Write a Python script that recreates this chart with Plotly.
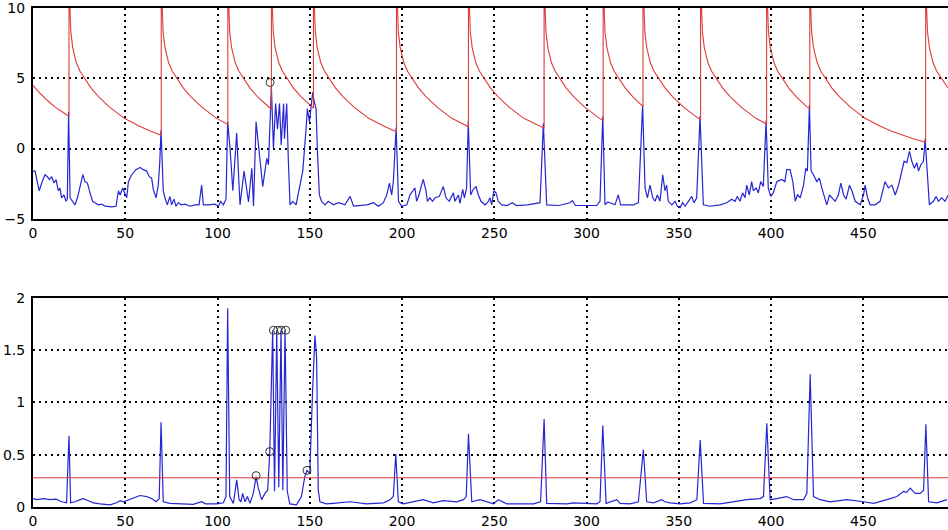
import plotly.graph_objects as go

# ---------------- data ----------------
TOP_BLUE_X = [0, 1.1, 2.3, 3.4, 4.7, 6.5, 7.8, 8.9, 10.1, 11.4, 12.5, 13.7, 14.6, 15.5, 16.8, 17.9, 18.6, 19.3, 20.1, 21.5,
              22.8, 24.1, 25.5, 27.0, 28.2, 29.5, 30.9, 32.3, 33.6, 35.4, 37.2, 39.0, 42.7, 45.0, 46.3, 47.2, 48.6, 49.9, 50.8, 51.7,
              53.5, 55.8, 58.0, 59.8, 61.6, 63.0, 64.3, 65.2, 66.7, 67.9, 68.7, 69.4, 70.6, 71.5, 72.8, 74.2, 75.1, 76.4, 77.5, 78.7,
              80.5, 82.4, 85.1, 87.8, 90.0, 91.4, 92.3, 95.0, 98.6, 100.5, 101.7, 103.2, 104.6, 105.5, 106.8, 108.3, 110.4, 111.3, 112.2, 114.4,
              115.5, 116.8, 118.6, 119.5, 120.9, 122.2, 123.1, 124.5, 125.8, 126.7, 127.6, 128.5, 129.2, 130.3, 131.5, 132.5, 133.6, 134.5, 135.8, 136.3,
              137.5, 138.4, 139.3, 140.8, 142.6, 144.4, 146.2, 148.0, 148.7, 149.8, 150.5, 151.6, 152.5, 153.4, 154.1, 155.2, 156.4, 158.3, 160.0, 162.9,
              165.6, 169.0, 171.9, 173.7, 180.9, 184.5, 187.2, 189.9, 191.7, 193.2, 194.4, 195.3, 196.8, 198.1, 199.8, 202.6, 204.3, 207.0, 207.9, 209.2,
              210.6, 211.5, 213.0, 213.7, 215.1, 216.5, 217.9, 220.2, 222.4, 223.8, 225.6, 227.8, 228.7, 230.5, 231.4, 232.9, 233.8, 235.0, 235.9, 237.2,
              238.6, 240.1, 241.4, 242.8, 245.0, 246.8, 247.7, 248.6, 249.8, 250.9, 252.2, 254.0, 257.0, 259.7, 262.0, 268.0, 274.8, 276.6, 278.4, 285.0,
              291.0, 292.4, 294.0, 305.5, 307.3, 308.8, 310.0, 311.5, 315.4, 317.2, 318.5, 325.4, 328.1, 330.4, 331.7, 333.0, 334.4, 335.9, 337.1, 338.4,
              339.8, 341.3, 342.5, 343.4, 344.3, 346.2, 348.0, 349.2, 350.7, 352.1, 353.4, 355.2, 357.0, 358.3, 359.7, 361.5, 363.3, 366.9, 372.4, 376.0,
              378.7, 380.5, 381.7, 383.2, 384.6, 385.9, 386.8, 388.2, 389.5, 390.4, 391.9, 393.1, 394.4, 395.8, 397.3, 398.5, 399.8, 401.2, 403.1, 405.8,
              407.5, 408.5, 410.3, 411.8, 413.1, 414.3, 415.8, 417.6, 418.8, 419.7, 420.8, 421.7, 423.0, 424.8, 426.2, 427.5, 429.3, 430.2, 431.7, 432.9,
              434.7, 436.5, 437.8, 439.3, 440.7, 442.5, 443.8, 445.6, 448.3, 450.1, 451.0, 452.3, 453.7, 456.4, 459.1, 461.8, 463.6, 465.5, 467.3, 469.1,
              470.9, 472.1, 473.6, 475.0, 476.3, 477.7, 479.0, 479.9, 481.2, 482.6, 483.5, 484.8, 485.8, 488.0, 489.5, 490.7, 492.5, 494.3, 496.0]
TOP_BLUE_Y = [-1.6, -1.6, -2.35, -3.0, -2.45, -1.86, -2.0, -2.2, -2.0, -2.45, -2.2, -3.0, -2.8, -3.5, -3.3, -3.75, -3.6, 2.6, -3.5, -3.75,
              -4.0, -3.5, -2.6, -1.86, -2.35, -2.45, -3.15, -3.75, -3.85, -4.0, -3.95, -4.1, -4.15, -4.1, -3.0, -3.3, -2.8, -3.3, -3.5, -2.35,
              -1.86, -1.5, -1.35, -1.5, -1.6, -2.0, -2.1, -2.9, -3.5, -2.6, -1.0, 1.3, -3.0, -3.5, -4.0, -3.4, -4.0, -3.6, -4.1, -3.85,
              -4.0, -3.95, -4.1, -4.0, -4.0, -2.6, -4.0, -4.0, -3.95, -4.1, -3.75, -4.0, -3.6, 1.9, 0.0, -3.0, 1.1, -1.6, -4.0, -1.6,
              -2.6, -3.8, -1.4, -4.1, 1.9, 0.0, -0.9, -2.7, -1.4, -0.7, -1.15, 2.85, 4.4, 0.0, 3.2, 1.4, 3.2, 0.26, 3.2, 0.7,
              3.2, -0.9, -4.0, -3.75, -4.0, -2.8, -1.6, 1.4, 2.85, 1.9, 2.85, 4.0, 3.3, 2.85, 0.0, -3.3, -3.75, -4.0, -3.75, -4.0,
              -3.85, -4.0, -3.4, -4.1, -4.0, -3.85, -4.1, -3.85, -3.3, -2.45, -3.3, -2.35, 1.5, -3.75, -4.1, -4.0, -3.3, -2.8, -3.75, -3.3,
              -2.6, -2.2, -3.0, -3.75, -3.5, -3.75, -3.5, -3.4, -2.7, -3.5, -3.75, -3.15, -3.75, -3.3, -3.9, -2.9, -3.5, -2.8, 1.9, -3.3,
              -2.9, -2.7, -3.3, -3.75, -4.0, -3.75, -3.5, -4.0, -3.0, -3.15, -3.75, -4.0, -4.05, -3.85, -4.05, -4.0, -3.85, 1.8, -4.0, -4.05,
              -3.85, -3.7, -4.05, -4.05, -3.75, 2.3, -4.0, -3.8, -4.0, -3.3, -4.0, -4.0, -3.85, 3.1, -2.8, -3.5, -2.6, -3.5, -3.75, -3.3,
              -3.75, -1.86, -3.0, -2.6, -3.75, -4.0, -3.75, -4.1, -4.2, -3.85, -4.1, -3.75, -3.4, -3.85, -3.5, 2.3, -4.0, -4.1, -4.0, -3.85,
              -3.6, -3.75, -3.4, -3.75, -3.15, -3.5, -2.6, -3.3, -2.35, -3.0, -2.8, -3.15, -2.35, -2.7, 2.0, -2.8, -3.4, -3.15, -2.35, -2.2,
              -2.35, -1.5, -1.5, -2.35, -3.75, -3.3, -3.5, -2.6, -1.4, -1.6, 3.1, -1.6, -1.86, -2.35, -2.1, -2.8, -3.5, -4.0, -3.3, -3.5,
              -3.75, -3.3, -2.45, -3.3, -3.6, -2.6, -3.0, -3.75, -4.0, -3.3, -2.6, -3.5, -4.0, -4.0, -3.75, -2.35, -2.8, -2.6, -3.3, -2.6,
              -1.6, -0.9, -1.0, -0.2, -0.9, -1.4, -1.0, -1.6, -1.15, -0.9, 0.7, -2.1, -4.0, -3.75, -3.4, -3.75, -3.5, -3.75, -3.3]

TOP_RED_X = [0, 4, 8, 12, 16, 19.5,
             19.5, 20, 20.5, 21.5, 23.5, 25.5, 28.5, 31.5, 35.5, 41.5, 49.5, 57.5, 63.5, 69.5,
             69.5, 70, 70.5, 71.5, 73.5, 75.5, 78.5, 81.5, 85.5, 91.5, 99.5, 105.6,
             105.6, 106.1, 106.6, 107.6, 109.6, 111.6, 114.6, 117.6, 121.6, 127.6, 129.2,
             129.2, 129.7, 130.2, 131.2, 133.2, 135.2, 138.2, 141.2, 145.2, 151.2, 152,
             152, 152.5, 153, 154, 156, 158, 161, 164, 168, 174, 182, 190, 196, 197,
             197, 197.5, 198, 199, 201, 203, 206, 209, 213, 219, 227, 235, 236,
             236, 236.5, 237, 238, 240, 242, 245, 248, 252, 258, 266, 274, 277,
             277, 277.5, 278, 279, 281, 283, 286, 289, 293, 299, 307, 309,
             309, 309.5, 310, 311, 313, 315, 318, 321, 325, 330.6,
             330.6, 331.1, 331.6, 332.6, 334.6, 336.6, 339.6, 342.6, 346.6, 352.6, 360.6, 361.8,
             361.8, 362.3, 362.8, 363.8, 365.8, 367.8, 370.8, 373.8, 377.8, 383.8, 391.8, 397.6,
             397.6, 398.1, 398.6, 399.6, 401.6, 403.6, 406.6, 409.6, 413.6, 419.6, 421,
             421, 421.5, 422, 423, 425, 427, 430, 433, 437, 443, 451, 459, 465, 471, 477, 483.8,
             483.8, 484.3, 484.8, 485.8, 487.8, 489.8, 492.8, 496]
TOP_RED_Y = [4.5, 3.9, 3.4, 2.95, 2.6, 2.3,
             12, 10, 8.3, 7.2, 6.1, 5.5, 4.9, 4.3, 3.7, 2.95, 2.15, 1.6, 1.25, 0.95,
             12, 10, 8.3, 7.2, 6.1, 5.5, 4.9, 4.3, 3.7, 2.95, 2.15, 1.72,
             12, 10, 8.3, 7.2, 6.1, 5.5, 4.9, 4.3, 3.7, 2.95, 2.8,
             12, 10, 8.3, 7.2, 6.1, 5.5, 4.9, 4.3, 3.7, 2.95, 2.88,
             12, 10, 8.3, 7.2, 6.1, 5.5, 4.9, 4.3, 3.7, 2.95, 2.15, 1.6, 1.25, 1.2,
             12, 10, 8.3, 7.2, 6.1, 5.5, 4.9, 4.3, 3.7, 2.95, 2.15, 1.6, 1.55,
             12, 10, 8.3, 7.2, 6.1, 5.5, 4.9, 4.3, 3.7, 2.95, 2.15, 1.6, 1.45,
             12, 10, 8.3, 7.2, 6.1, 5.5, 4.9, 4.3, 3.7, 2.95, 2.15, 2.0,
             12, 10, 8.3, 7.2, 6.1, 5.5, 4.9, 4.3, 3.7, 2.98,
             12, 10, 8.3, 7.2, 6.1, 5.5, 4.9, 4.3, 3.7, 2.95, 2.15, 2.07,
             12, 10, 8.3, 7.2, 6.1, 5.5, 4.9, 4.3, 3.7, 2.95, 2.15, 1.75,
             12, 10, 8.3, 7.2, 6.1, 5.5, 4.9, 4.3, 3.7, 2.95, 2.85,
             12, 10, 8.3, 7.2, 6.1, 5.5, 4.9, 4.3, 3.7, 2.95, 2.15, 1.6, 1.25, 0.95, 0.7, 0.45,
             12, 10, 8.3, 7.2, 6.1, 5.5, 4.9, 4.3]

TOP_MARK_X = [128.5]
TOP_MARK_Y = [4.7]

BOT_BLUE_X = [0, 2, 5.6, 9.2, 12.6, 15.5, 18.2, 19.5, 20.4, 22.8, 25.5, 27.3, 30, 32.7, 36.3, 41.7, 45.3, 47.2, 49, 51.7,
              54.4, 58, 61.6, 64.3, 66.7, 68.4, 69.4, 70.6, 74.3, 79.7, 86.9, 91.4, 93.5, 99.5, 103.2, 104.6, 105.5, 106.6, 108.6, 110.4,
              111.7, 112.7, 113.6, 114.9, 116.2, 117.6, 119.4, 120.9, 122.1, 123.9, 125.7, 127.2, 128.3, 129.9, 130.9, 132.1, 133.2, 134.4, 135.4, 136.6,
              137.8, 139.2, 142.8, 145.5, 147.3, 148.5, 150, 151.5, 152.8, 153.7, 154.6, 155.5, 159, 162.8, 171.8, 180.8, 189.9, 193.5, 195.3, 196.6,
              198, 200.7, 206.1, 211.5, 217, 222.4, 229.6, 233.3, 234.8, 236, 237.8, 242.3, 249.5, 252.2, 256.7, 271.2, 275.1, 277, 278.4, 289.3,
              292.9, 305.5, 307.3, 308.8, 310.6, 316.4, 318.2, 323.6, 328.1, 330.8, 332.6, 336.3, 340.8, 342.5, 345.3, 350.7, 356.2, 359.8, 361.6, 363.4,
              372.4, 379.6, 386.9, 394.1, 395.9, 397.7, 399.5, 403.1, 408.5, 412.2, 417.6, 419.4, 421.2, 423, 426.6, 432, 441.1, 450.1, 455.6, 462.8,
              468.2, 471.8, 473.5, 475.4, 478.1, 480.9, 482.7, 483.9, 485.4, 489.9, 495.4]
BOT_BLUE_Y = [0.08, 0.07, 0.08, 0.07, 0.075, 0.05, 0.04, 0.68, 0.04, 0.05, 0.07, 0.08, 0.06, 0.04, 0.03, 0.02, 0.04, 0.06, 0.05, 0.07,
              0.09, 0.11, 0.1, 0.08, 0.05, 0.08, 0.81, 0.05, 0.035, 0.03, 0.025, 0.05, 0.03, 0.03, 0.04, 0.1, 1.9, 0.1, 0.035, 0.26,
              0.07, 0.05, 0.13, 0.05, 0.1, 0.035, 0.13, 0.29, 0.18, 0.07, 0.13, 0.16, 0.52, 1.69, 0.15, 1.69, 0.19, 1.69, 0.16, 1.69,
              0.15, 0.03, 0.02, 0.1, 0.29, 0.35, 0.32, 1.1, 1.64, 1.43, 0.16, 0.05, 0.03, 0.035, 0.05, 0.03, 0.04, 0.07, 0.1, 0.51,
              0.05, 0.03, 0.05, 0.07, 0.04, 0.06, 0.05, 0.07, 0.1, 0.70, 0.05, 0.07, 0.03, 0.07, 0.03, 0.03, 0.05, 0.84, 0.035, 0.03,
              0.04, 0.03, 0.05, 0.78, 0.035, 0.07, 0.035, 0.03, 0.05, 0.55, 0.05, 0.04, 0.07, 0.05, 0.04, 0.03, 0.04, 0.07, 0.64, 0.035,
              0.03, 0.05, 0.07, 0.08, 0.1, 0.80, 0.07, 0.08, 0.1, 0.07, 0.07, 0.13, 1.27, 0.1, 0.07, 0.05, 0.07, 0.05, 0.035, 0.07,
              0.1, 0.15, 0.14, 0.18, 0.13, 0.13, 0.16, 0.79, 0.05, 0.04, 0.07]

BOT_THRESHOLD = 0.28
BOT_MARK_X = [120.9, 128.3, 130.3, 132.6, 134.6, 137.0, 148.5]
BOT_MARK_Y = [0.30, 0.53, 1.69, 1.69, 1.69, 1.69, 0.35]

X_TICKS = [0, 50, 100, 150, 200, 250, 300, 350, 400, 450]
TOP_Y_TICKS = [-5, 0, 5, 10]
BOT_Y_TICKS = [0, 0.5, 1, 1.5, 2]
BOT_Y_TICKTEXT = ["0", "0.5", "1", "1.5", "2"]
X_MAX = 495.9

# ---------------- figure ----------------
BLUE = "#2626d4"
RED = "#e03a3a"
fig = go.Figure()

fig.add_trace(go.Scatter(x=TOP_BLUE_X, y=TOP_BLUE_Y, mode="lines",
                         line=dict(color=BLUE, width=1.2), xaxis="x", yaxis="y"))
fig.add_trace(go.Scatter(x=TOP_RED_X, y=TOP_RED_Y, mode="lines",
                         line=dict(color=RED, width=1.1), xaxis="x", yaxis="y"))
fig.add_trace(go.Scatter(x=TOP_MARK_X, y=TOP_MARK_Y, mode="markers",
                         marker=dict(symbol="circle-open", size=8, color="#333333", line=dict(width=1)),
                         xaxis="x", yaxis="y"))

fig.add_trace(go.Scatter(x=BOT_BLUE_X, y=BOT_BLUE_Y, mode="lines",
                         line=dict(color=BLUE, width=1.2), xaxis="x2", yaxis="y2"))
fig.add_trace(go.Scatter(x=[0, X_MAX], y=[BOT_THRESHOLD, BOT_THRESHOLD], mode="lines",
                         line=dict(color=RED, width=1.1), xaxis="x2", yaxis="y2"))
fig.add_trace(go.Scatter(x=BOT_MARK_X, y=BOT_MARK_Y, mode="markers",
                         marker=dict(symbol="circle-open", size=8, color="#333333", line=dict(width=1)),
                         xaxis="x2", yaxis="y2"))

FONT = dict(family="DejaVu Sans", size=14, color="black")
GRID = dict(showgrid=True, gridcolor="black", gridwidth=1.5, griddash="2px,4px")

xcommon = dict(range=[0, X_MAX], tickvals=X_TICKS, ticks="", showline=True, linecolor="black",
               linewidth=2, mirror=True, zeroline=False, tickfont=FONT, **GRID)
ycommon = dict(ticks="", showline=True, linecolor="black", linewidth=2, mirror=False,
               zeroline=False, tickfont=FONT, ticklabelstandoff=3, ticklabeloverflow="allow", **GRID)

fig.update_layout(
    width=948, height=530,
    margin=dict(l=33, r=0, t=6, b=23),
    paper_bgcolor="white", plot_bgcolor="white",
    showlegend=False,
    xaxis=dict(domain=[0, 1], anchor="y", **xcommon),
    yaxis=dict(domain=[0.5774, 1.0], anchor="x", range=[-5, 10], tickvals=TOP_Y_TICKS, **ycommon),
    xaxis2=dict(domain=[0, 1], anchor="y2", **xcommon),
    yaxis2=dict(domain=[0.0, 0.4192], anchor="x2", range=[0, 2], tickvals=BOT_Y_TICKS,
                ticktext=BOT_Y_TICKTEXT, **ycommon),
)

fig.write_html("out.html")
